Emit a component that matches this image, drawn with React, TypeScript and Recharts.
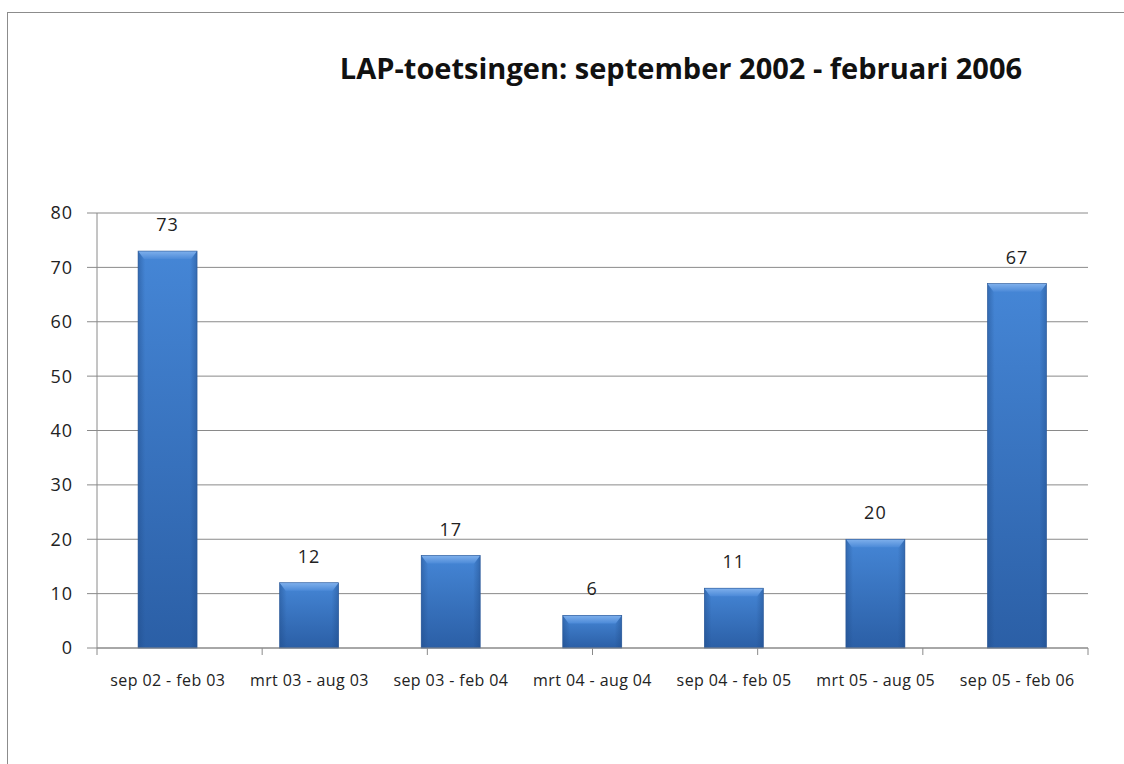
import { BarChart, Bar, XAxis, YAxis, CartesianGrid, LabelList } from 'recharts';

const periods = [
  'sep 02 - feb 03',
  'mrt 03  - aug 03',
  'sep 03 - feb 04',
  'mrt 04  - aug 04',
  'sep 04 - feb 05',
  'mrt 05  - aug 05',
  'sep 05 - feb 06',
];
const toetsingen = [73, 12, 17, 6, 11, 20, 67];
const yTicks = [0, 10, 20, 30, 40, 50, 60, 70, 80];
const edgeTicks = [0, 1, 2, 3, 4, 5, 6, 7];

const data = periods.map((p, i) => ({ period: p, value: toetsingen[i] }));

const FONT = '"Open Sans", "Noto Sans", sans-serif';

// bar with a light bevel on top, a bit like the excel look
function BevelBar(props: any) {
  const { x, y, width, height } = props;
  if (!height || height <= 0) return null;
  const b = Math.min(8, height / 2);
  return (
    <g>
      <rect x={x} y={y} width={width} height={height} fill="url(#barFill)" />
      <rect x={x} y={y} width={width} height={height} fill="url(#barEdge)" />
      <polygon
        points={`${x},${y} ${x + width},${y} ${x + width - 6},${y + b} ${x + 6},${y + b}`}
        fill="url(#barTop)"
      />
      <rect x={x} y={y} width={width} height={height} fill="none" stroke="#2a5796" strokeWidth={0.6} />
    </g>
  );
}

const NoLabel = () => <g />;

export default function App() {
  return (
    <div style={{ position: 'absolute', left: 0, top: 0, width: 1124, height: 764, overflow: 'hidden', background: '#fff' }}>
      <div
        style={{
          position: 'absolute',
          left: 7,
          top: 12,
          width: 1200,
          height: 900,
          border: '1px solid #8c8c8c',
          boxSizing: 'border-box',
        }}
      />
      <div
        style={{
          position: 'absolute',
          left: 236,
          width: 890,
          top: 48,
          textAlign: 'center',
          fontFamily: FONT,
          fontWeight: 700,
          fontSize: 29,
          color: '#111',
          whiteSpace: 'nowrap',
        }}
      >
        LAP-toetsingen: september 2002 - februari 2006
      </div>
      <div style={{ position: 'absolute', left: 0, top: 0 }}>
        <BarChart
          width={1124}
          height={764}
          data={data}
          margin={{ top: 213, right: 36, bottom: 0, left: 0 }}
          barCategoryGap="29%"
        >
          <defs>
            <linearGradient id="barFill" x1="0" y1="0" x2="0" y2="1">
              <stop offset="0%" stopColor="#4586d6" />
              <stop offset="100%" stopColor="#2b5fa6" />
            </linearGradient>
            <linearGradient id="barEdge" x1="0" y1="0" x2="1" y2="0">
              <stop offset="0%" stopColor="#1f4a86" stopOpacity={0.45} />
              <stop offset="12%" stopColor="#1f4a86" stopOpacity={0} />
              <stop offset="88%" stopColor="#1f4a86" stopOpacity={0} />
              <stop offset="100%" stopColor="#1f4a86" stopOpacity={0.45} />
            </linearGradient>
            <linearGradient id="barTop" x1="0" y1="0" x2="0" y2="1">
              <stop offset="0%" stopColor="#7fb0ec" />
              <stop offset="100%" stopColor="#4c8ad8" />
            </linearGradient>
          </defs>
          <CartesianGrid vertical={false} stroke="#8a8a8a" strokeWidth={1} />
          {/* numeric axis only for the tick marks between the categories */}
          <XAxis
            type="number"
            domain={[0, 7]}
            ticks={edgeTicks}
            allowDataOverflow
            height={1}
            tick={NoLabel}
            tickLine={{ stroke: '#8a8a8a' }}
            tickSize={7}
            stroke="#8a8a8a"
          />
          <XAxis
            xAxisId="cat"
            dataKey="period"
            height={115}
            axisLine={false}
            tickLine={false}
            tickSize={0}
            tickMargin={26}
            interval={0}
            tick={{ fontSize: 16, fill: '#222', fontFamily: FONT, letterSpacing: 0.4, style: { whiteSpace: 'pre' } }}
          />
          <YAxis
            domain={[0, 80]}
            ticks={yTicks}
            width={97}
            tickSize={10}
            tickMargin={14}
            stroke="#8a8a8a"
            tick={{ fontSize: 18, fill: '#222', fontFamily: FONT, letterSpacing: 1 }}
          />
          <Bar dataKey="value" xAxisId="cat" shape={BevelBar} isAnimationActive={false}>
            <LabelList
              dataKey="value"
              position="top"
              offset={20}
              style={{ fontSize: 18, fill: '#222', fontFamily: FONT, letterSpacing: 1 }}
            />
          </Bar>
        </BarChart>
      </div>
    </div>
  );
}
